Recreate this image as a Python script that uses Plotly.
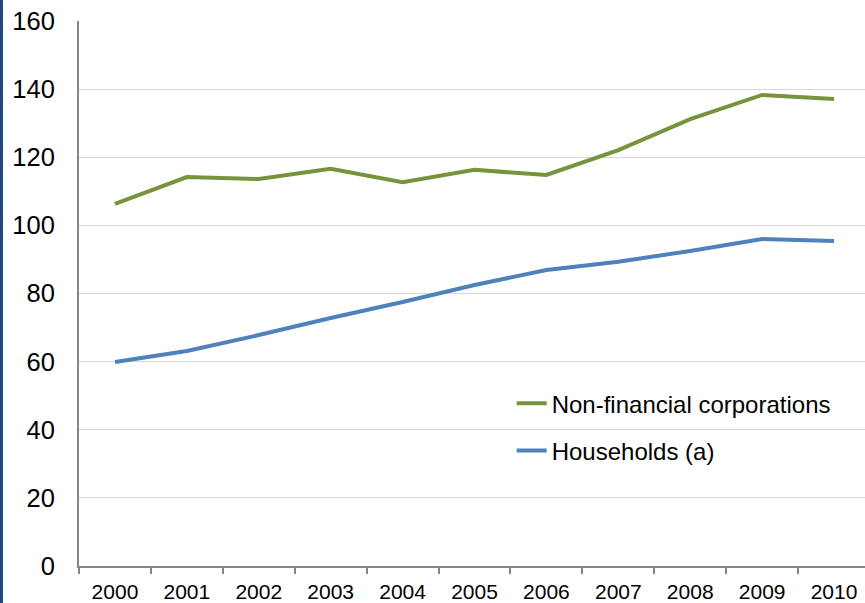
import plotly.graph_objects as go

years = ["2000", "2001", "2002", "2003", "2004", "2005", "2006", "2007", "2008", "2009", "2010"]
corporations = [106.3, 114.2, 113.6, 116.6, 112.7, 116.3, 114.8, 122.1, 131.2, 138.3, 137.1]
households = [59.9, 63.1, 67.8, 72.8, 77.5, 82.5, 86.9, 89.3, 92.5, 96.0, 95.4]
y_ticks = [0, 20, 40, 60, 80, 100, 120, 140, 160]

GREEN = "#77933C"
BLUE = "#4F81BD"
FONT = "Liberation Sans, Arial, sans-serif"

L, R, T, B = 79, 0, 21, 37
W, H = 870, 603
plot_w = W - L - R

fig = go.Figure()
fig.add_trace(go.Scatter(
    x=years, y=corporations, mode="lines", name="Non-financial corporations",
    line=dict(color=GREEN, width=4), legendgroup="a",
))
fig.add_trace(go.Scatter(
    x=years, y=households, mode="lines", name="Households (a)",
    line=dict(color=BLUE, width=4), legendgroup="b",
))

# dark frame line along the left edge of the page
fig.add_shape(type="line", xref="paper", yref="paper",
              x0=-(L - 1.5) / plot_w, x1=-(L - 1.5) / plot_w, y0=-0.2, y1=1.2,
              line=dict(color="#1F497D", width=3))

fig.update_layout(
    width=W, height=H,
    margin=dict(l=L, r=R, t=T, b=B),
    paper_bgcolor="white", plot_bgcolor="white",
    font=dict(family=FONT, size=20, color="black"),
    showlegend=True,
    legend=dict(x=0.547, y=0.339, xanchor="left", yanchor="top",
                bgcolor="rgba(0,0,0,0)", font=dict(size=24),
                traceorder="grouped", tracegroupgap=13),
    xaxis=dict(
        type="category", range=[-0.5, 10.5],
        showline=True, linecolor="#868686", linewidth=2,
        ticks="outside", ticklen=6, tickcolor="#868686", tickwidth=2,
        tickson="boundaries", showgrid=False,
        tickfont=dict(size=21), ticklabelstandoff=6,
    ),
    yaxis=dict(
        range=[0, 160], tickvals=y_ticks,
        showline=True, linecolor="#868686", linewidth=2,
        showgrid=True, gridcolor="#D9D9D9", gridwidth=1,
        ticks="", zeroline=False,
        tickfont=dict(size=25.5), ticklabelstandoff=17,
    ),
)

fig.write_html("out.html")
